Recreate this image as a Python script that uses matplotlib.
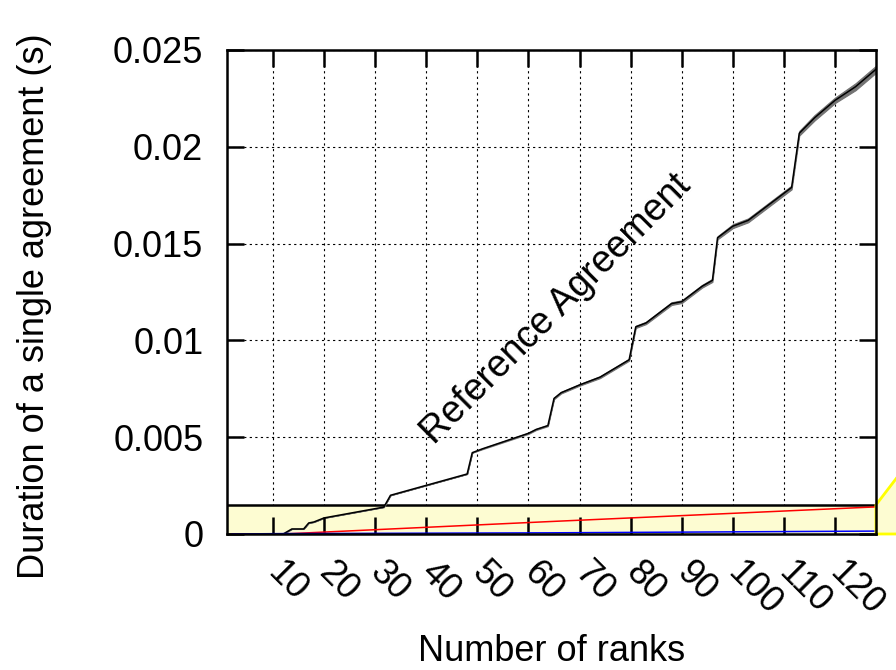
import matplotlib.pyplot as plt
from matplotlib.patches import Rectangle, Polygon

plt.rcParams['font.family'] = ['Liberation Sans', 'DejaVu Sans']

# duration of one reference agreement vs number of ranks
ranks = [2, 12, 13.7, 16, 17, 18, 20, 31.7, 33, 48, 49, 51, 60, 61.5, 63.8, 65,
         66.4, 70, 74, 79.7, 81, 83, 88, 90, 94, 96, 97, 100, 103, 111.5, 113,
         116, 120, 124, 128]
reference = [0, 0, 0.00026, 0.00026, 0.00057, 0.00062, 0.00083, 0.00139, 0.0020,
             0.0031, 0.0042, 0.0044, 0.0052, 0.0054, 0.0056, 0.0070, 0.0073,
             0.0077, 0.0081, 0.0090, 0.0107, 0.0109, 0.0119, 0.0120, 0.0128,
             0.0131, 0.0153, 0.0159, 0.0162, 0.0179, 0.0207, 0.0215, 0.0224,
             0.0231, 0.0240]
spread = [0, 0, 0, 0, 0, 0, 0, 0, 0, 0, 0, 0.00002, 0.00003, 0.00003, 0.00003,
          0.00004, 0.00004, 0.00004, 0.00005, 0.00005, 0.00006, 0.00006, 0.00007,
          0.00007, 0.00007, 0.00008, 0.00008, 0.0001, 0.0001, 0.0001, 0.00012,
          0.00014, 0.00014, 0.00018, 0.00018]

# the two cheaper variants
other_ranks = [2, 12, 64, 128]
red_series = [0, 0, 0.00064, 0.0014]
blue_series = [0, 0.00002, 0.00006, 0.00015]

xticks = [10, 20, 30, 40, 50, 60, 70, 80, 90, 100, 110, 120]
yticks = [0, 0.005, 0.01, 0.015, 0.02, 0.025]
ytick_labels = ['0', '0.005', '0.01', '0.015', '0.02', '0.025']
zoom_top = 0.0015

fig = plt.figure(figsize=(8.96, 6.70), dpi=100)
ax = fig.add_axes([0.2533, 0.2030, 0.7243, 0.7224])
ax.set_xlim(1, 128)
ax.set_ylim(0, 0.025)

# dashed grid, kept under the zoom box
for x in xticks:
    ax.axvline(x, color='k', lw=0.8, dashes=(2, 3), zorder=0.5)
for y in yticks[1:]:
    ax.axhline(y, color='k', lw=0.8, dashes=(2, 3), zorder=0.5)

ax.add_patch(Rectangle((1, 0), 127, zoom_top, facecolor='#fdfcd2',
                       edgecolor='none', zorder=1))
ax.axhline(zoom_top, color='k', lw=1.8, zorder=1.2)

lo = [r - s for r, s in zip(reference, spread)]
hi = [r + s for r, s in zip(reference, spread)]
ax.fill_between(ranks, lo, hi, color='0.45', lw=0.8, zorder=1.5)
ax.plot(ranks, reference, color='k', lw=1.1, zorder=2)
ax.plot(other_ranks, red_series, color='#ff0000', lw=1.1, zorder=2)
ax.plot(other_ranks, blue_series, color='#0000ff', lw=1.1, zorder=2)

ax.text(65.5, 0.0116, 'Reference Agreement', rotation=45, rotation_mode='anchor',
        ha='center', va='center', fontsize=27)

# connector towards the zoomed view
ax.add_patch(Polygon([(1.0, 0.0), (1.0, 0.06), (1.06, 0.165), (1.06, 0.0)],
                     closed=True, facecolor='#fdfcd2', edgecolor='#ffff00',
                     lw=2, transform=ax.transAxes, clip_on=False, zorder=3))

for sp in ax.spines.values():
    sp.set_linewidth(1.8)
    sp.set_zorder(4)

ax.set_xticks(xticks)
ax.set_xticklabels([str(t) for t in xticks], rotation=-45, ha='left', va='center',
                   rotation_mode='anchor')
ax.set_yticks(yticks)
ax.set_yticklabels(ytick_labels)
ax.tick_params(direction='in', length=12, width=1.8, top=True, right=True,
               labelsize=26)
ax.tick_params(axis='x', pad=24)
ax.tick_params(axis='y', pad=17)

ax.set_xlabel('Number of ranks', fontsize=26)
ax.set_ylabel('Duration of a single agreement (s)', fontsize=26)
ax.xaxis.set_label_coords(0.5, -0.207)
ax.yaxis.set_label_coords(-0.27, 0.471)

fig.savefig('out.png', dpi=100)
